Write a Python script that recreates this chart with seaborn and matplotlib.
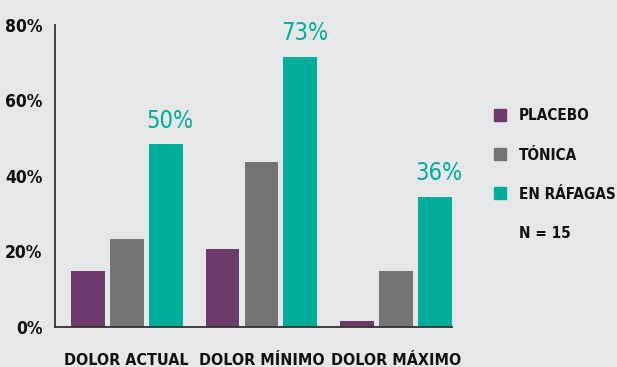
import numpy as np
import pandas as pd
import seaborn as sns
from matplotlib import pyplot as plt
from matplotlib.lines import Line2D

categorias = ['DOLOR ACTUAL', 'DOLOR MÍNIMO', 'DOLOR MÁXIMO']
grupos = ['PLACEBO', 'TÓNICA', 'EN RÁFAGAS']
placebo = [14.7, 20.7, 1.6]
tonica = [23.3, 43.8, 14.7]
rafagas = [48.5, 71.6, 34.5]
etiquetas_rafagas = ['50%', '73%', '36%']
yticks = [0, 20, 40, 60, 80]
nota = 'N = 15'

colores = ['#6d3b6b', '#747474', '#00ae9b']
fondo = '#e6e7e9'

df = pd.DataFrame({
    'dolor': categorias * 3,
    'grupo': [g for g in grupos for _ in categorias],
    'valor': placebo + tonica + rafagas,
})

sns.set_style('white')
plt.rcParams['font.family'] = ['DejaVu Sans']
plt.rcParams['font.stretch'] = 'condensed'
plt.rcParams['text.color'] = '#111111'
plt.rcParams['xtick.color'] = '#111111'
plt.rcParams['ytick.color'] = '#111111'

fig = plt.figure(figsize=(6.17, 3.67), dpi=100, facecolor=fondo)
ax = fig.add_axes([0.0891, 0.109, 0.6435, 0.823])
ax.set_facecolor(fondo)

sns.barplot(data=df, x='dolor', y='valor', hue='grupo', hue_order=grupos,
            palette=colores, width=0.867, gap=0.13, saturation=1,
            linewidth=0, legend=False, ax=ax)

ax.set_ylim(0, 80)
ax.set_xlim(-0.533, 2.415)
ax.set_yticks(yticks)
ax.set_yticklabels([f'{v}%' for v in yticks], fontsize=12.5, fontweight='bold')
ax.set_xticks(range(len(categorias)))
ax.set_xticklabels(categorias, fontsize=11.5, fontweight='bold')
ax.set_xlabel('')
ax.set_ylabel('')
ax.tick_params(axis='y', direction='in', length=7, width=1.2, color='#333333', pad=9)
ax.tick_params(axis='x', length=0, pad=19)
for s in ['top', 'right']:
    ax.spines[s].set_visible(False)
for s in ['left', 'bottom']:
    ax.spines[s].set_color('#333333')
    ax.spines[s].set_linewidth(1.3)

# etiquetas sobre las barras en ráfagas
for bar, txt in zip(ax.containers[2], etiquetas_rafagas):
    ax.text(bar.get_x() + bar.get_width() / 2 + 0.03, bar.get_height() + 3.0, txt,
            ha='center', va='bottom', fontsize=17, color=colores[2])

handles = [Line2D([], [], marker='s', linestyle='none', markersize=9,
                  markerfacecolor=c, markeredgecolor=c) for c in colores]
handles.append(Line2D([], [], linestyle='none'))
leg = fig.legend(handles, grupos + [nota], loc='upper left',
                 bbox_to_anchor=(0.775, 0.742), frameon=False,
                 prop={'size': 11, 'weight': 'bold'},
                 handlelength=1.0, handletextpad=0.75, labelspacing=1.58)

fig.savefig('out.png', dpi=100, facecolor=fondo)
